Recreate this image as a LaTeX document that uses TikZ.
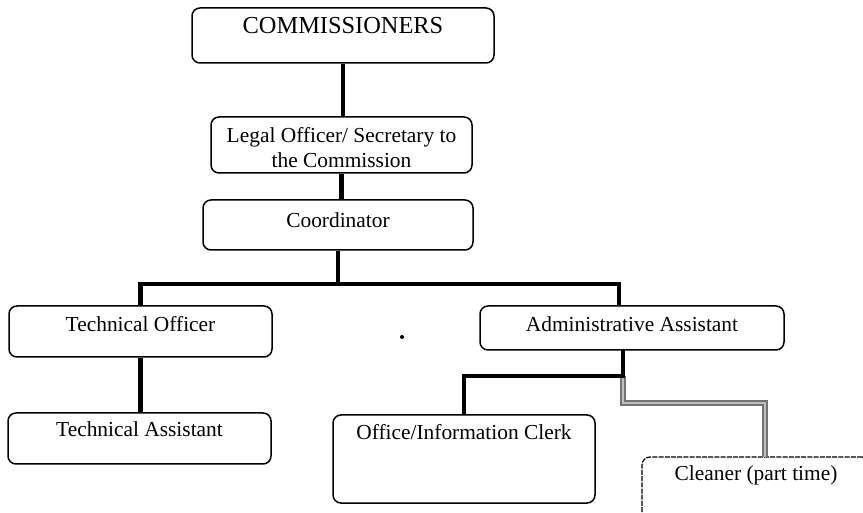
\documentclass[tikz,border=0pt]{standalone}
\usepackage{fontspec}
\setmainfont{Liberation Serif}

\begin{document}
\begin{tikzpicture}[x=0.5pt,y=-0.5pt,
  post/.style={draw,line width=0.75pt,rounded corners=4pt,inner sep=0pt},
  tag/.style={anchor=north,inner sep=0pt,align=center,font=\fontsize{10.7}{12.2}\selectfont},
  link/.style={line width=2.2pt},
  sublink/.style={draw=black!55,line width=0.7pt,double=black!25,double distance=1.3pt}]
\clip (0,0) rectangle (863,513);

\node[post,minimum width=151pt,minimum height=27.5pt,
  label={[tag,yshift=-5pt,font=\fontsize{12.2}{14}\selectfont]north:COMMISSIONERS}] (comm) at (343,35.5) {};
\node[post,minimum width=130.5pt,minimum height=28pt,
  label={[tag,yshift=-5.5pt]north:Legal Officer/ Secretary to\\the Commission}] (legal) at (341.5,145) {};
\node[post,minimum width=135pt,minimum height=25pt,
  label={[tag,yshift=-6.5pt]north:Coordinator}] (coord) at (338,225) {};

\node[post,minimum width=131.5pt,minimum height=25.5pt,
  label={[tag,yshift=-5.5pt]north:Technical Officer}] (tofc) at (140.5,331.5) {};
\node[post,minimum width=131.5pt,minimum height=25.5pt,
  label={[tag,yshift=-4.5pt]north:Technical Assistant}] (tasst) at (139.5,438.5) {};

\node[post,minimum width=152pt,minimum height=22pt,
  label={[tag,yshift=-5.5pt]north:Administrative Assistant}] (admin) at (632,328) {};
\node[post,minimum width=131pt,minimum height=44pt,
  label={[tag,yshift=-5pt]north:Office/Information Clerk}] (clerk) at (464,459) {};
\node[post,line width=0.6pt,dash pattern=on 2.5pt off 0.6pt,minimum width=114pt,minimum height=44pt,
  label={[tag,yshift=-4.5pt]north:Cleaner (part time)}] (clean) at (756,501) {};

\coordinate (bus) at (338,284);
\coordinate (a-in) at (619,306);
\coordinate (a-out) at (623,350);
\coordinate (split) at (623,376);
\coordinate (g-turn) at (623,403);
\coordinate (c-in) at (765,457);

\draw[link] (comm.south) -- (comm.south |- legal.north);
\draw[link] (legal.south) -- (legal.south |- coord.north);
\draw[link] (coord.south) -- (bus);
\draw[link] (tofc.north) |- (bus) -| (a-in);
\draw[link] (tofc.south) -- (tofc.south |- tasst.north);

\draw[sublink] (split) -- (g-turn) -| (c-in);
\draw[link] (a-out) -- (split) -| (clerk.north);

\fill (402,337) circle (1pt);

\end{tikzpicture}
\end{document}
